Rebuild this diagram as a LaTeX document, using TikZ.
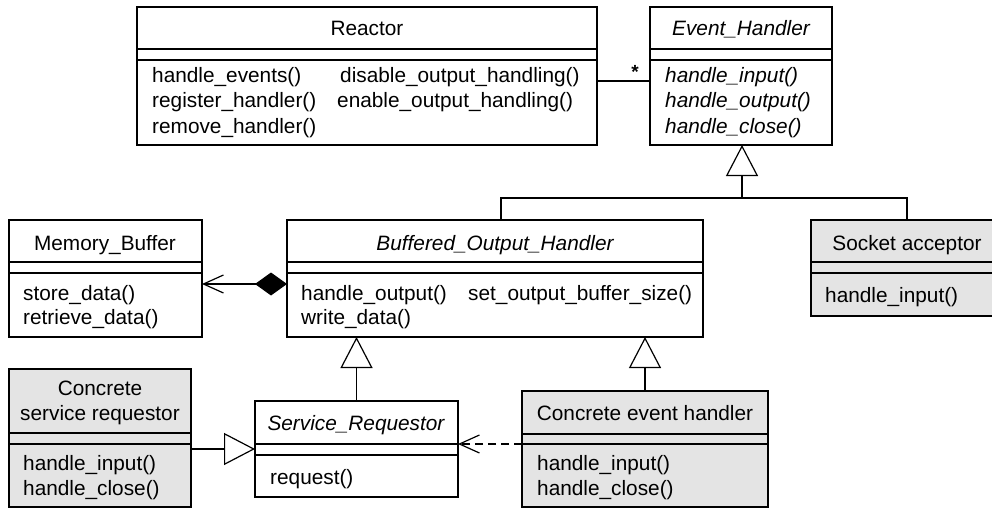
\documentclass[tikz,border=0pt]{standalone}
\usepackage{fontspec}
\setmainfont{Liberation Sans}
\usetikzlibrary{arrows.meta}
\definecolor{boxgray}{HTML}{E4E4E4}
\newcommand\umlbox[8]{%
  \node[box, fill=#8, minimum width={#4pt-#2pt}, minimum height={#5pt-#3pt}] (#1) at (#2,#3) {};
  \draw[umlline] (#2,#6) -- (#4,#6) (#2,#7) -- (#4,#7);
}
\newcommand\umlfont{\fontsize{20.8}{25}\selectfont}
\tikzset{
  umlline/.style={line width=1.2pt},
  box/.style={draw, umlline, rectangle, inner sep=0pt, outer sep=0pt, anchor=north west},
  txt/.style={inner sep=0pt, anchor=base west, font=\umlfont},
  ttl/.style={inner sep=0pt, anchor=base, font=\umlfont},
  itl/.style={font=\umlfont\itshape},
  gen/.style={umlline, -{Triangle[open, length=31pt, width=32pt]}},
  dep/.style={umlline, dash pattern=on 8pt off 5pt, -{Straight Barb[length=20pt, width=18pt]}},
  comp/.style={umlline, {Diamond[length=32pt, width=23pt]}-{Straight Barb[length=20pt, width=18pt]}},
}
\begin{document}
\begin{tikzpicture}[x=1pt, y=-1pt, line join=miter]
\useasboundingbox (0,0) rectangle (992,508);

% Reactor
\umlbox{reactor}{137}{7}{597}{145}{49}{60}{white}
\node[ttl] (reactorT) at (367,36) {Reactor};
\node[txt] (rop1) at (152,83) {handle\_events()};
\node[txt] (rop2) at (152,108) {register\_handler()};
\node[txt] (rop3) at (152,133) {remove\_handler()};
\node[txt] (rop4) at (340,83) {disable\_output\_handling()};
\node[txt] (rop5) at (337,108) {enable\_output\_handling()};

% Event_Handler
\umlbox{evh}{650}{7}{832}{145}{49}{60}{white}
\node[ttl, itl] (evhT) at (741,36) {Event\_Handler};
\node[txt, itl] (eop1) at (665,83) {handle\_input()};
\node[txt, itl] (eop2) at (665,108) {handle\_output()};
\node[txt, itl] (eop3) at (665,133) {handle\_close()};

% Memory_Buffer
\umlbox{mb}{9}{220}{202}{337}{262}{273}{white}
\node[ttl] (mbT) at (105,250) {Memory\_Buffer};
\node[txt] (mop1) at (23,300) {store\_data()};
\node[txt] (mop2) at (23,324) {retrieve\_data()};

% Buffered_Output_Handler
\umlbox{boh}{287}{220}{703}{337}{262}{273}{white}
\node[ttl, itl] (bohT) at (495,250) {Buffered\_Output\_Handler};
\node[txt] (bop1) at (301,300) {handle\_output()};
\node[txt] (bop2) at (468,300) {set\_output\_buffer\_size()};
\node[txt] (bop3) at (301,324) {write\_data()};

% Socket acceptor
\umlbox{sock}{811}{220}{1003}{316}{262}{273}{boxgray}
\node[ttl] (sockT) at (907,250) {Socket acceptor};
\node[txt] (sop1) at (825,302) {handle\_input()};

% Concrete service requestor
\umlbox{csr}{9}{369}{191}{507}{433}{444}{boxgray}
\node[ttl] (csrT1) at (100,395) {Concrete};
\node[ttl] (csrT2) at (100,420) {service requestor};
\node[txt] (cop1) at (23,470) {handle\_input()};
\node[txt] (cop2) at (23,495) {handle\_close()};

% Service_Requestor
\umlbox{srq}{255}{401}{458}{497}{444}{455}{white}
\node[ttl, itl] (srqT) at (356,430) {Service\_Requestor};
\node[txt] (qop1) at (270,484) {request()};

% Concrete event handler
\umlbox{ceh}{522}{391}{768}{507}{434}{444}{boxgray}
\node[ttl] (cehT) at (645,420) {Concrete event handler};
\node[txt] (hop1) at (537,470) {handle\_input()};
\node[txt] (hop2) at (537,495) {handle\_close()};

% Association Reactor -- Event_Handler
\draw[umlline] (reactor.east |- 0,81) -- (evh.west |- 0,81);
\node[inner sep=0pt, font=\fontsize{19}{19}\selectfont\bfseries] (star) at (635,72) {*};

% Generalization tree to Event_Handler
\coordinate (j) at (742,198);
\draw[gen] (j) -- (j |- evh.south);
\draw[umlline] (boh.north -| 501,0) |- (j) -| (sock.north);

% Generalizations to Buffered_Output_Handler
\draw[gen] (srq.north) -- (srq.north |- boh.south);
\draw[gen] (ceh.north) -- (ceh.north |- boh.south);

% Concrete service requestor -> Service_Requestor
\draw[gen] (csr.east |- 0,449) -- (srq.west |- 0,449);

% Dependency Concrete event handler -> Service_Requestor
\draw[dep] (ceh.west |- 0,444) -- (srq.east |- 0,444);

% Composition Buffered_Output_Handler -> Memory_Buffer
\draw[comp] (boh.west |- 0,284) -- (mb.east |- 0,284);
\end{tikzpicture}
\end{document}
